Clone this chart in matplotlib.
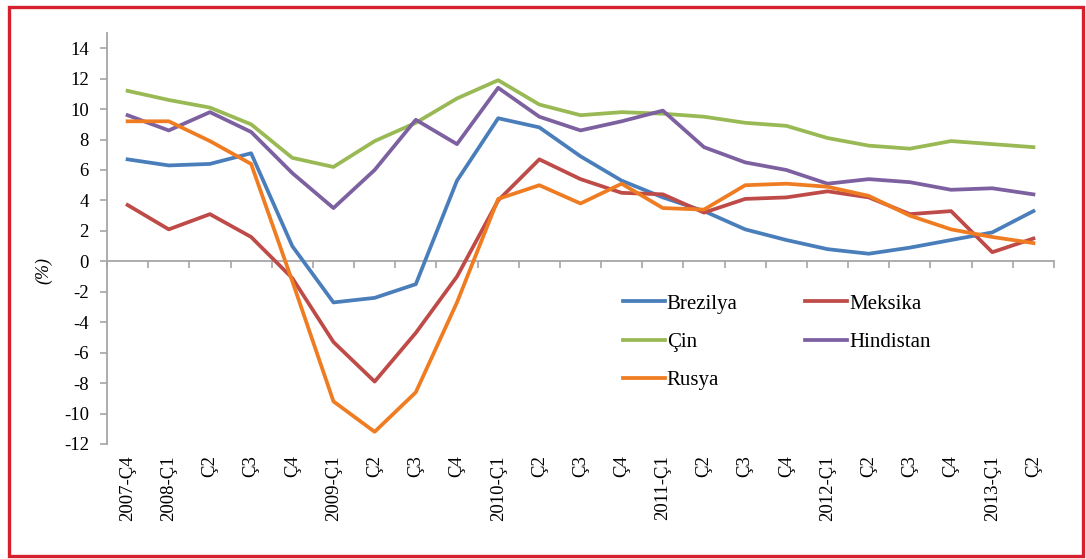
import matplotlib.pyplot as plt
from matplotlib.patches import Rectangle

# quarterly growth (%)
quarters = ['2007-Ç4', '2008-Ç1', 'Ç2', 'Ç3', 'Ç4', '2009-Ç1', 'Ç2', 'Ç3', 'Ç4',
            '2010-Ç1', 'Ç2', 'Ç3', 'Ç4', '2011-Ç1', 'Ç2', 'Ç3', 'Ç4',
            '2012-Ç1', 'Ç2', 'Ç3', 'Ç4', '2013-Ç1', 'Ç2']

brezilya = [6.7, 6.3, 6.4, 7.1, 1.0, -2.7, -2.4, -1.5, 5.3, 9.4, 8.8, 6.9, 5.3,
            4.2, 3.3, 2.1, 1.4, 0.8, 0.5, 0.9, 1.4, 1.9, 3.3]
meksika = [3.7, 2.1, 3.1, 1.6, -1.1, -5.3, -7.9, -4.7, -1.0, 4.0, 6.7, 5.4, 4.5,
           4.4, 3.2, 4.1, 4.2, 4.6, 4.2, 3.1, 3.3, 0.6, 1.5]
cin = [11.2, 10.6, 10.1, 9.0, 6.8, 6.2, 7.9, 9.1, 10.7, 11.9, 10.3, 9.6, 9.8,
       9.7, 9.5, 9.1, 8.9, 8.1, 7.6, 7.4, 7.9, 7.7, 7.5]
hindistan = [9.6, 8.6, 9.8, 8.5, 5.8, 3.5, 6.0, 9.3, 7.7, 11.4, 9.5, 8.6, 9.2,
             9.9, 7.5, 6.5, 6.0, 5.1, 5.4, 5.2, 4.7, 4.8, 4.4]
rusya = [9.2, 9.2, 7.9, 6.4, -1.3, -9.2, -11.2, -8.6, -2.7, 4.1, 5.0, 3.8, 5.1,
         3.5, 3.4, 5.0, 5.1, 4.9, 4.3, 3.0, 2.1, 1.6, 1.2]

yticks = list(range(-12, 15, 2))

plt.rcParams['font.family'] = ['Liberation Serif', 'DejaVu Serif']

fig = plt.figure(figsize=(10.86, 5.59), dpi=100)
ax = fig.add_axes([107 / 1086, 1 - 444 / 559, (1054 - 107) / 1086, (444 - 33) / 559])

x = list(range(len(quarters)))
lw = 2.7
l_br, = ax.plot(x, brezilya, color='#4A7EBB', lw=lw, label='Brezilya')
l_me, = ax.plot(x, meksika, color='#BE4B48', lw=lw, label='Meksika')
l_ci, = ax.plot(x, cin, color='#98B954', lw=lw, label='Çin')
l_hi, = ax.plot(x, hindistan, color='#7D60A0', lw=lw, label='Hindistan')
l_ru, = ax.plot(x, rusya, color='#F07C22', lw=lw, label='Rusya')

ax.set_xlim(-0.5, len(quarters) - 0.5)
ax.set_ylim(-12, 15)
ax.set_yticks(yticks)
ax.set_yticklabels([str(v) for v in yticks], fontsize=13.5)

ax.set_xticks(x)
ax.set_xticklabels(quarters, rotation=90, fontsize=13.5)
ax.tick_params(axis='x', length=0, pad=8)
ax.tick_params(axis='y', length=5, width=1.2, color='#a6a6a6', pad=8, direction='out')

for s in ['top', 'right', 'bottom']:
    ax.spines[s].set_visible(False)
ax.spines['left'].set_color('#a6a6a6')
ax.spines['left'].set_linewidth(1.3)

# category axis drawn at y = 0 with ticks between categories
sec = ax.secondary_xaxis(12 / 27)
sec.set_xticks([i - 0.5 for i in range(len(quarters) + 1)])
sec.set_xticklabels([])
sec.tick_params(length=5, width=1.2, color='#a6a6a6', direction='out')
sec.spines['bottom'].set_color('#a6a6a6')
sec.spines['bottom'].set_linewidth(1.3)
sec.spines['top'].set_visible(False)

fig.text(44 / 1086, 1 - 270 / 559, '(%)', rotation=90, fontsize=13,
         style='italic', ha='center', va='center')

handles = [l_br, l_ci, l_ru, l_me, l_hi]
fig.legend(handles, [h.get_label() for h in handles], ncol=2, frameon=False,
           loc='upper left', bbox_to_anchor=(623 / 1086, 1 - 294 / 559),
           fontsize=15, handlelength=2.0, handletextpad=0.1,
           columnspacing=3.25, labelspacing=0.9, borderpad=0, borderaxespad=0)

fig.patches.append(Rectangle((9 / 1086, 3 / 559), (1083 - 9) / 1086, (552 - 3) / 559,
                             transform=fig.transFigure, fill=False,
                             edgecolor='#D7202E', lw=2.4))

fig.savefig('out.png', dpi=100)
